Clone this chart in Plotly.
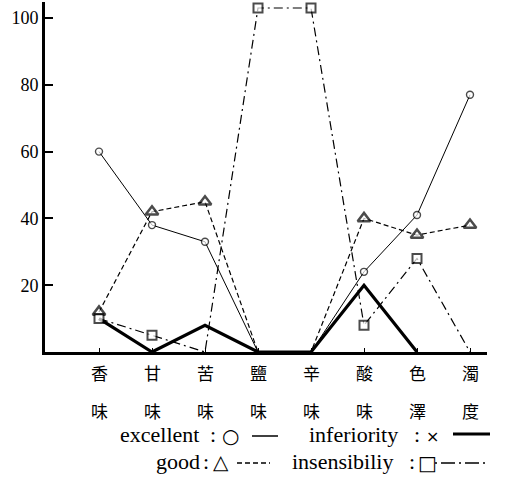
import plotly.graph_objects as go

categories = ["香味", "甘味", "苦味", "鹽味", "辛味", "酸味", "色澤", "濁度"]
excellent = [60, 38, 33, 0, 0, 24, 41, 77]
good = [12, 42, 45, 0, 0, 40, 35, 38]
inferiority = [10, 0, 8, 0, 0, 20, 0, None]
insensibility = [10, 5, 0, 103, 103, 8, 28, 0]
y_ticks = [20, 40, 60, 80, 100]

W, H = 505, 483
L, R, T, B = 45, 18, 2, 131
PW, PH = W - L - R, H - T - B

def px(x):
    return (x - L) / PW

def py(y):
    return (H - B - y) / PH

def sizes(values, s):
    return [0 if (v is None or v == 0) else s for v in values]

x = list(range(len(categories)))
SERIF = "Times New Roman, Liberation Serif, DejaVu Serif, serif"
CJK = "Noto Sans CJK TC"

fig = go.Figure()
fig.add_trace(go.Scatter(x=x, y=inferiority, mode="lines", name="inferiority",
                         line=dict(color="black", width=3.2), cliponaxis=False,
                         connectgaps=False))
fig.add_trace(go.Scatter(x=x, y=excellent, mode="lines+markers", name="excellent",
                         line=dict(color="black", width=1),
                         marker=dict(symbol="circle", size=sizes(excellent, 7), color="white",
                                     line=dict(color="black", width=1.4)),
                         cliponaxis=False))
fig.add_trace(go.Scatter(x=x, y=good, mode="lines+markers", name="good",
                         line=dict(color="black", width=1.2, dash="5px,3px"),
                         marker=dict(symbol="triangle-up", size=sizes(good, 11), color="white",
                                     line=dict(color="black", width=2.5)),
                         cliponaxis=False))
fig.add_trace(go.Scatter(x=x, y=insensibility, mode="lines+markers", name="insensibility",
                         line=dict(color="black", width=1.2, dash="9px,4px,2px,4px"),
                         marker=dict(symbol="square", size=sizes(insensibility, 9), color="white",
                                     line=dict(color="black", width=2)),
                         cliponaxis=False))

annotations = []
for i, c in enumerate(categories):
    annotations.append(dict(x=i, xref="x", y=py(372), yref="paper", text=c[0],
                            showarrow=False, font=dict(family=CJK, size=17, color="black"),
                            xanchor="center", yanchor="middle"))
    annotations.append(dict(x=i, xref="x", y=py(410), yref="paper", text=c[1],
                            showarrow=False, font=dict(family=CJK, size=17, color="black"),
                            xanchor="center", yanchor="middle"))

legend_font = dict(family=SERIF, size=22, color="black")
sym_font = dict(family="DejaVu Sans", size=20, color="black")
small_sym = dict(family="DejaVu Sans", size=16, color="black")
legend_items = [
    ("excellent", 159, 434, legend_font),
    (":", 213, 434, legend_font),
    ("○", 230, 436, sym_font),
    ("inferiority", 353, 434, legend_font),
    (":", 417, 434, legend_font),
    ("×", 432, 436, small_sym),
    ("good", 178, 461, legend_font),
    (":", 206, 461, legend_font),
    ("△", 221, 462, sym_font),
    ("insensibiliy", 342, 461, legend_font),
    (":", 412, 461, legend_font),
    ("□", 427, 463, sym_font),
]
for txt, xx, yy, f in legend_items:
    annotations.append(dict(x=px(xx), xref="paper", y=py(yy), yref="paper", text=txt,
                            showarrow=False, font=f, xanchor="center", yanchor="middle"))

shapes = [
    dict(type="line", xref="paper", yref="paper", x0=px(252), x1=px(278), y0=py(436), y1=py(436),
         line=dict(color="black", width=1.5)),
    dict(type="line", xref="paper", yref="paper", x0=px(453), x1=px(490), y0=py(434), y1=py(434),
         line=dict(color="black", width=3)),
    dict(type="line", xref="paper", yref="paper", x0=px(237), x1=px(270), y0=py(463), y1=py(463),
         line=dict(color="black", width=1.5, dash="5px,3px")),
    dict(type="line", xref="paper", yref="paper", x0=px(435), x1=px(485), y0=py(463), y1=py(463),
         line=dict(color="black", width=1.5, dash="2px,4px,14px,4px")),
]

x0 = -54 / 53
fig.update_layout(
    width=W, height=H,
    margin=dict(l=L, r=R, t=T, b=B),
    paper_bgcolor="white", plot_bgcolor="white",
    showlegend=False,
    annotations=annotations,
    shapes=shapes,
    xaxis=dict(range=[x0, x0 + PW / 53], showgrid=False, zeroline=False,
               showline=True, linecolor="black", linewidth=2.5,
               ticks="inside", ticklen=4, tickwidth=1, tickcolor="black",
               tickvals=x, showticklabels=False, fixedrange=True),
    yaxis=dict(range=[0, PH / 3.34], showgrid=False, zeroline=False,
               showline=True, linecolor="black", linewidth=3,
               ticks="inside", ticklen=8, tickwidth=2, tickcolor="black",
               tickvals=y_ticks, ticktext=[str(v) for v in y_ticks],
               tickfont=dict(family=SERIF, size=18, color="black"), fixedrange=True),
)

fig.write_html("out.html", config={"displayModeBar": False},
               post_script="document.body.style.margin='0px';document.body.style.overflow='hidden';")
